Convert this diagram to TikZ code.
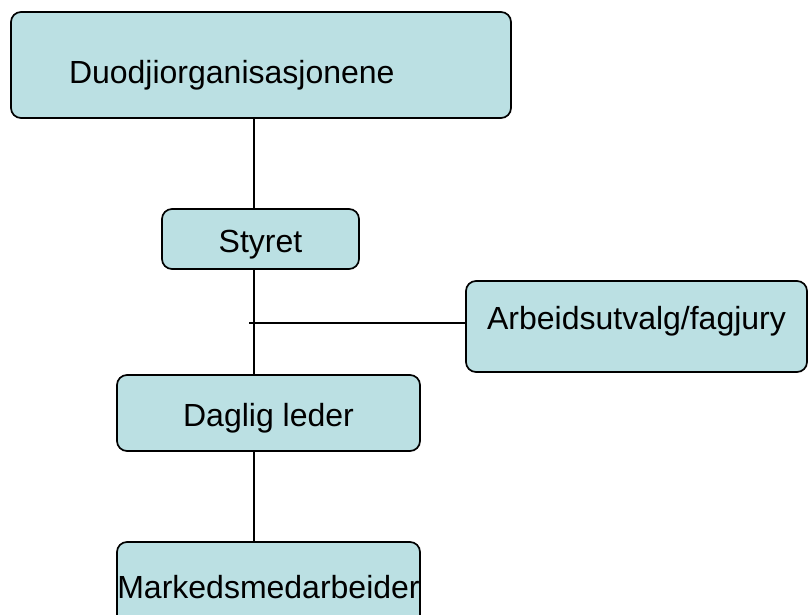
\documentclass[tikz,border=0pt]{standalone}
\usepackage{fontspec}
\setmainfont{Liberation Sans}
\usepackage{tikz}
\definecolor{boxblue}{HTML}{BBE0E3}

\begin{document}
\begin{tikzpicture}[x=1pt,y=-1pt]
  \tikzstyle{box}=[draw, fill=boxblue, line width=1.7pt, rounded corners=10pt, inner sep=0pt,
    text height=30pt, text depth=3pt, font=\fontsize{32}{38}\selectfont]
  \tikzstyle{link}=[line width=1.5pt, black]
  \useasboundingbox (0,0) rectangle (808,615);
  \node[box, minimum width=500pt, minimum height=106pt, text width=384pt, inner xsep=58pt,
    align=left, text height=41pt] (duodji) at (261,65) {Duodjiorganisasjonene};
  \node[box, minimum width=197pt, minimum height=60pt] (styret) at (260.5,239) {Styret};
  \node[box, minimum width=341pt, minimum height=91pt, text height=11pt, text depth=6pt]
    (arbeid) at (636.5,326.5) {Arbeidsutvalg/fagjury};
  \node[box, minimum width=303pt, minimum height=76pt] (daglig) at (268.5,413) {Daglig leder};
  \node[box, minimum width=303pt, minimum height=85pt] (marked) at (268.5,584.5) {Markedsmedarbeider};
  \coordinate (spine) at (254,0);
  \coordinate (joint) at (249,323);
  \foreach \a/\b in {duodji/styret,styret/daglig,daglig/marked} {
    \draw[link] (\a.south -| spine) -- (\b.north -| spine);
  }
  \draw[link] (joint) -- (arbeid.west |- joint);
\end{tikzpicture}
\end{document}
